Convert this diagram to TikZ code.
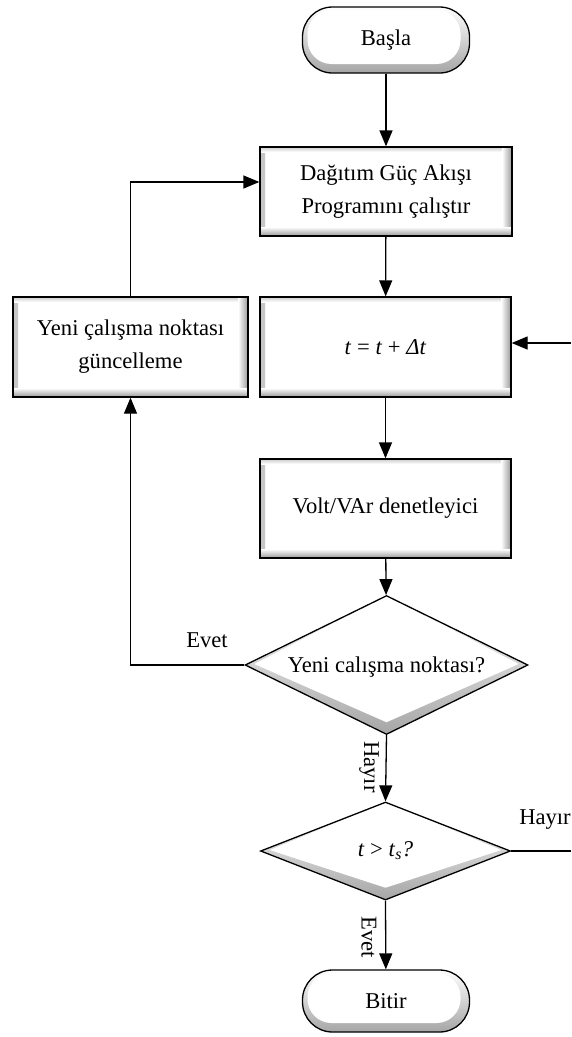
\documentclass[tikz,border=0pt]{standalone}
\usepackage{fontspec}
\setmainfont{Liberation Serif}
\usetikzlibrary{shapes.geometric,arrows.meta,calc}

\begin{document}
\begin{tikzpicture}[x=1pt,y=-1pt,
  font=\fontsize{22.6}{33}\selectfont,
  line width=1.3pt,
  arr/.style={-{Triangle[length=16pt,width=13pt]}},
  % raised rectangular process box
  procbox/.style={rectangle, draw=black, line width=1.3pt, fill=white,
    align=center, inner sep=0pt,
    path picture={
      \shade[left color=gray!45, right color=white]
        (path picture bounding box.south west) rectangle ([xshift=5pt]path picture bounding box.north west);
      \shade[top color=gray!40, bottom color=white]
        ([yshift=-5pt]path picture bounding box.north west) rectangle (path picture bounding box.north east);
      \shade[left color=white, right color=gray!80]
        ([xshift=-10pt]path picture bounding box.south east) rectangle (path picture bounding box.north east);
      \shade[top color=white, bottom color=gray!80]
        ([yshift=9pt]path picture bounding box.south west) rectangle (path picture bounding box.south east);
    }},
  % raised decision diamond
  decbox/.style={diamond, draw=black, line width=1.3pt, fill=white,
    inner sep=0pt,
    path picture={
      \shade[top color=white, bottom color=gray!70]
        (path picture bounding box.south west) rectangle (path picture bounding box.north east);
      \fill[white] (path picture bounding box.north)
        -- ([xshift=9pt,yshift=1pt]path picture bounding box.west)
        -- ([yshift=12pt]path picture bounding box.south)
        -- ([xshift=-9pt,yshift=1pt]path picture bounding box.east) -- cycle;
    }},
  % raised rounded terminal
  termbox/.style={rectangle, rounded corners=30pt, draw=black, line width=1.3pt,
    fill=white, inner sep=0pt, minimum width=167pt,
    path picture={
      \shade[top color=white, bottom color=gray!70]
        (path picture bounding box.south west) rectangle (path picture bounding box.north east);
      \fill[white, rounded corners=24pt]
        ([xshift=5pt,yshift=9pt]path picture bounding box.south west)
        rectangle ([xshift=-9pt,yshift=-3pt]path picture bounding box.north east);
    }},
  lbl/.style={inner sep=0pt}
]
\useasboundingbox (0,0) rectangle (571,1037);

% nodes
\node[termbox, minimum height=66pt] (start) at (386,40) {Başla};
\node[procbox, minimum width=252pt, minimum height=89pt] (prog) at (386,191.5)
  {Dağıtım Güç Akışı\\Programını çalıştır};
\node[procbox, minimum width=235pt, minimum height=100pt] (upd) at (130.5,347)
  {Yeni çalışma noktası\\güncelleme};
\node[procbox, minimum width=251pt, minimum height=100pt] (tstep) at (385.5,347)
  {\textit{t} = \textit{t} + \textit{Δt}};
\node[procbox, minimum width=251pt, minimum height=99pt] (volt) at (385.5,508.5)
  {Volt/VAr denetleyici};
\node[decbox, minimum width=283pt, minimum height=139pt] (d1) at (386.5,665) {};
\node[lbl] (d1t) at (386.5,667) {Yeni calışma noktası?};
\node[decbox, minimum width=250pt, minimum height=98pt] (d2) at (385.5,851) {};
\node[lbl] (d2t) at (385.5,851) {\textit{t} > \textit{t}\textsubscript{\textit{s}}\textit{?}};
\node[termbox, minimum height=62pt] (stop) at (386,1001) {Bitir};

% free ends at the right margin
\coordinate (rout) at (571,851);
\coordinate (rin) at (571,343);

% connectors
\draw[arr] (start) -- (prog);
\draw[arr] (prog) -- (tstep);
\draw[arr] (tstep) -- (volt);
\draw[arr] (volt) -- (d1);
\draw[arr] (d1.west) -| (upd.south);
\draw[arr] (upd.north) |- ([yshift=9.5pt]prog.west);
\draw[arr] (d1.south) -- (d2.north);
\draw[arr] (d2.south) -- (stop);
\draw (d2.east) -- (rout);
\draw[arr] (rin) -- (tstep.east |- rin);

% branch labels
\node[lbl] (evet1) at (207,640) {Evet};
\node[lbl, rotate=-90] (hayir1) at (369,767) {Hayır};
\node[lbl] (hayir2) at (545,820) {Hayır};
\node[lbl, rotate=-90] (evet2) at (369,937) {Evet};
\end{tikzpicture}
\end{document}
